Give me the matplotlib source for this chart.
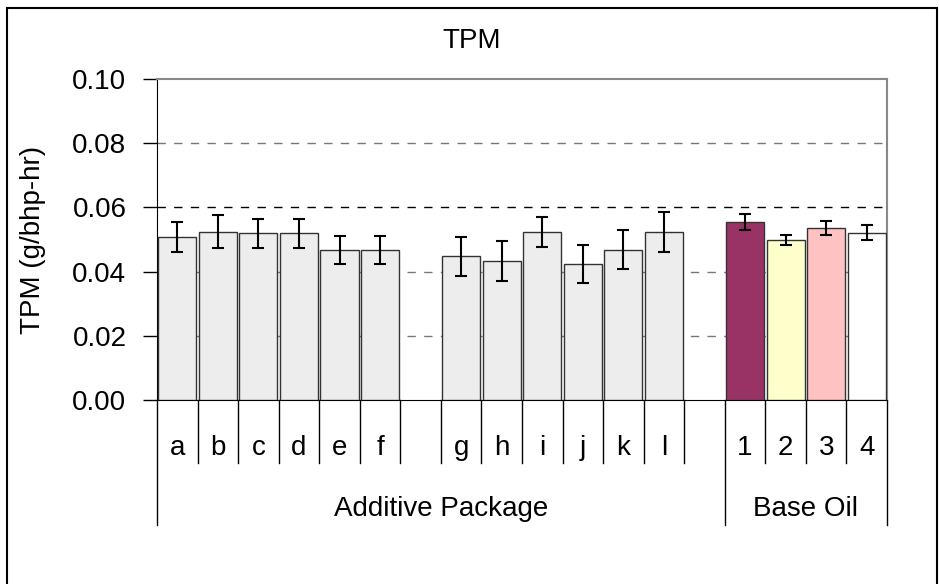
import numpy as np
import matplotlib.pyplot as plt
from matplotlib.patches import Rectangle

plt.rcParams['font.family'] = ['Liberation Sans', 'DejaVu Sans']

# TPM results, additive packages a-l and base oils 1-4
additive_1 = ['a', 'b', 'c', 'd', 'e', 'f']
additive_2 = ['g', 'h', 'i', 'j', 'k', 'l']
base_oils = ['1', '2', '3', '4']

tpm_add_1 = [0.0508, 0.0524, 0.0520, 0.0520, 0.0468, 0.0468]
err_add_1 = [0.0047, 0.0051, 0.0045, 0.0045, 0.0044, 0.0044]
tpm_add_2 = [0.0448, 0.0433, 0.0524, 0.0424, 0.0468, 0.0524]
err_add_2 = [0.0061, 0.0061, 0.0047, 0.0060, 0.0061, 0.0062]
tpm_base = [0.0555, 0.0499, 0.0536, 0.0521]
err_base = [0.0024, 0.0016, 0.0023, 0.0023]
base_colors = ['#993366', '#ffffcc', '#ffc2c2', '#ffffff']

groups = ['Additive Package', 'Base Oil']

# slot layout: 6 bars, gap, 6 bars, gap, 4 bars
labels = additive_1 + [''] + additive_2 + [''] + base_oils
values = tpm_add_1 + [np.nan] + tpm_add_2 + [np.nan] + tpm_base
errors = err_add_1 + [0] + err_add_2 + [0] + err_base
colors = ['#ededed'] * 14 + base_colors
n = len(labels)
x = np.arange(n) + 0.5

W, H = 939, 584
fig = plt.figure(figsize=(W / 100, H / 100), dpi=100)
ax = fig.add_axes([157 / W, 1 - 400 / H, 730 / W, 321 / H])

vals = np.array(values, dtype=float)
mask = ~np.isnan(vals)
ax.bar(x[mask], vals[mask], width=0.94, color=np.array(colors)[mask],
       edgecolor='#333333', linewidth=1.0, zorder=3)
ax.errorbar(x[mask], vals[mask], yerr=np.array(errors)[mask], fmt='none',
            ecolor='black', elinewidth=1.5, capsize=4.5, capthick=1.5, zorder=4)

ax.set_xlim(0, n)
ax.set_ylim(0, 0.10)
ax.set_yticks(np.arange(0, 0.101, 0.02))
ax.set_yticklabels(['%.2f' % v for v in np.arange(0, 0.101, 0.02)])
ax.tick_params(axis='y', labelsize=20, length=10, width=1, direction='out', pad=12)
ax.set_xticks([])

for yv in [0.02, 0.04, 0.08]:
    ax.axhline(yv, color='#777777', linestyle=(0, (6, 6)), linewidth=1, zorder=1)
ax.axhline(0.06, color='black', linestyle=(0, (6, 6)), linewidth=1, zorder=1)

ax.spines['left'].set_color('black')
ax.spines['bottom'].set_color('black')
ax.spines['top'].set_color('#888888')
ax.spines['right'].set_color('#888888')
ax.spines['top'].set_linewidth(1.5)
ax.spines['right'].set_linewidth(1.5)

# category axis below the plot
trans = ax.get_xaxis_transform()
group_edges = [0, 14, n]
for i in range(n + 1):
    bottom = -0.389 if i in group_edges else -0.196
    ax.plot([i, i], [0, bottom], color='black', linewidth=1,
            transform=trans, clip_on=False)
for xi, lab in zip(x, labels):
    ax.text(xi, -0.171, lab, transform=trans, ha='center', va='baseline',
            fontsize=20)
for g, (a, b) in zip(groups, zip(group_edges[:-1], group_edges[1:])):
    ax.text((a + b) / 2, -0.361, g, transform=trans, ha='center',
            va='baseline', fontsize=20)

fig.text(472 / W, 1 - 48 / H, 'TPM', ha='center', va='baseline', fontsize=20)
fig.text(33 / W, 1 - 240 / H, 'TPM (g/bhp-hr)', ha='center', va='center',
         rotation=90, fontsize=20)

# chart border
fig.patches.append(Rectangle((7 / W, -0.01), 930 / W, 1 - 8 / H + 0.01,
                             transform=fig.transFigure, fill=False,
                             edgecolor='black', linewidth=1.5))

fig.savefig('out.png', dpi=100)
